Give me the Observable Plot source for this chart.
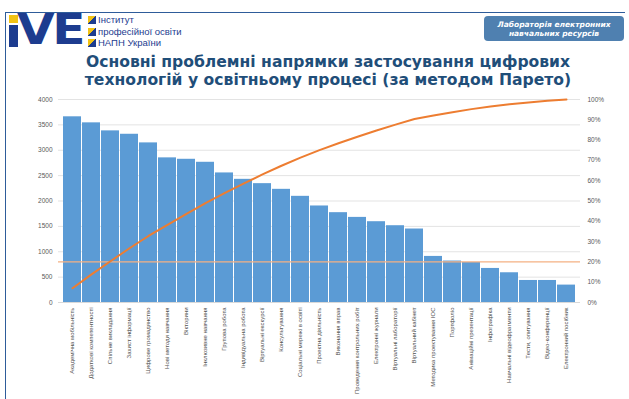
<!DOCTYPE html>
<html>
<head>
<meta charset="utf-8">
<script src="https://cdn.jsdelivr.net/npm/d3@7"></script>
<script src="https://cdn.jsdelivr.net/npm/@observablehq/plot@0.6"></script>
<style>
  html, body { margin: 0; padding: 0; background: #fff; }
  #page { position: relative; width: 629px; height: 399px; overflow: hidden; background: #fff; font-family: "DejaVu Sans", sans-serif; }
  #frameTop { position: absolute; left: 5px; top: 12px; width: 620px; height: 0; border-top: 1.5px solid #2e5c9a; }
  #frameLeft { position: absolute; left: 5px; top: 12px; width: 0; height: 400px; border-left: 1.5px solid #2e5c9a; }
  .logoI1 { position: absolute; left: 9px; top: 15px; width: 9px; height: 8px; background: #f2c314; }
  .logoI2 { position: absolute; left: 9px; top: 25px; width: 9px; height: 22px; background: #1d3c8f; }
  .logoVE { position: absolute; left: 17px; top: 8px; font: 900 43px/1 "DejaVu Sans", sans-serif; color: #1d3c8f; letter-spacing: -2px; transform: scaleX(1.13); transform-origin: left top; }
  .flag { position: absolute; left: 88px; width: 8px; height: 8px; background: linear-gradient(135deg, #f2c314 50%, #1d3c8f 50%); }
  .inst { position: absolute; left: 98px; font: 9.5px/1 "Liberation Sans", Arial, sans-serif; color: #1d3c8f; }
  #lab { position: absolute; left: 484px; top: 16px; width: 140px; height: 25px; background: #4f80b0; border-radius: 4px; color: #fff; font: italic bold 7.5px/1.2 "DejaVu Sans", sans-serif; text-align: center; display: flex; align-items: center; justify-content: center; }
  .title { position: absolute; left: 60px; width: 536px; text-align: center; font: bold 15.6px/1 "DejaVu Sans", sans-serif; color: #1f4e79; white-space: nowrap; }
  #chart { position: absolute; left: 0; top: 90px; }
</style>
</head>
<body>
<div id="page">
  <div id="frameTop"></div>
  <div id="frameLeft"></div>
  <div class="logoI1"></div>
  <div class="logoI2"></div>
  <div class="logoVE">VE</div>
  <div class="flag" style="top:16px"></div>
  <div class="flag" style="top:28px"></div>
  <div class="flag" style="top:39px"></div>
  <div class="inst" style="top:15px">Інститут</div>
  <div class="inst" style="top:27px">професійної освіти</div>
  <div class="inst" style="top:38px">НАПН України</div>
  <div id="lab">Лабораторія електронних<br>навчальних ресурсів</div>
  <div class="title" style="top:55px">Основні проблемні напрямки застосування цифрових</div>
  <div class="title" style="top:73px">технологій у освітньому процесі (за методом Парето)</div>
  <div id="chart"></div>
</div>
<script>
const categories = [
  "Академічна мобільність",
  "Додаткові компетентності",
  "Спільне викладання",
  "Захист інформації",
  "Цифрове громадянство",
  "Нові методи навчання",
  "Вікторини",
  "Інклюзивне навчання",
  "Групова робота",
  "Індивідуальна робота",
  "Віртуальні екскурсії",
  "Консультування",
  "Соціальні мережі в освіті",
  "Проектна діяльність",
  "Виконання вправ",
  "Проведення контрольних робіт",
  "Електронні журнали",
  "Віртуальні лабораторії",
  "Віртуальний кабінет",
  "Методика проектування ІОС",
  "Портфоліо",
  "Анімаційні презентації",
  "Інфографіка",
  "Навчальні відеофрагменти",
  "Тести, опитування",
  "Відео-конференції",
  "Електронний посібник"
];
const counts = [3659, 3540, 3382, 3315, 3145, 2850, 2822, 2763, 2553, 2427, 2342, 2230, 2092, 1902,
  1770, 1677, 1592, 1513, 1448, 908, 817, 789, 671, 586, 434, 434, 343];
const countTicks = [0, 500, 1000, 1500, 2000, 2500, 3000, 3500, 4000];
const percentTicks = [0, 10, 20, 30, 40, 50, 60, 70, 80, 90, 100];
const thresholdPercent = 20;
const countMax = 4000;

const total = d3.sum(counts);
const cumulative = Array.from(d3.cumsum(counts), v => v / total * 100);
const data = categories.map((c, i) => ({cat: c, count: counts[i], cum: cumulative[i]}));
const pctToY = p => p / 100 * countMax;

const chart = Plot.plot({
  width: 629,
  height: 309,
  marginLeft: 58,
  marginRight: 49,
  marginTop: 9,
  marginBottom: 97,
  style: {fontFamily: "'Liberation Sans', Arial, sans-serif", fontSize: "6.5px", color: "#595959", background: "transparent"},
  x: {domain: categories, paddingInner: 0.07, paddingOuter: 0.01},
  y: {domain: [0, countMax]},
  marks: [
    Plot.gridY(countTicks, {stroke: "#e3e3e3", strokeOpacity: 1}),
    Plot.barY(data, {x: "cat", y: "count", fill: "#5b9bd5"}),
    Plot.ruleY([pctToY(thresholdPercent)], {stroke: "#f4b183", strokeWidth: 1.2}),
    Plot.lineY(data, {x: "cat", y: d => pctToY(d.cum), stroke: "#ed7d31", strokeWidth: 2}),
    Plot.ruleY([0], {stroke: "#d9d9d9"}),
    Plot.axisY(countTicks, {anchor: "left", tickSize: 0, tickPadding: 6, label: null, fill: "#595959",
      tickFormat: d => String(d)}),
    Plot.axisY(percentTicks.map(pctToY), {anchor: "right", tickSize: 0, tickPadding: 7, label: null, fill: "#595959",
      tickFormat: d => Math.round(d / countMax * 100) + "%"}),
    Plot.axisX({tickRotate: -90, tickSize: 0, tickPadding: 5, label: null, fill: "#505050", fontSize: 6})
  ]
});
document.getElementById("chart").appendChild(chart);
</script>
</body>
</html>
